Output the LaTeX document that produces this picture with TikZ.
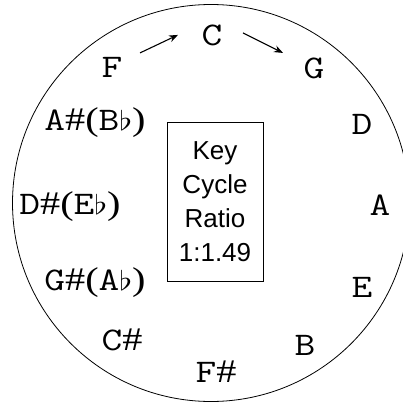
\documentclass[tikz,border=0pt]{standalone}
\usepackage{fontspec}
\setmainfont{Liberation Serif}
\newfontfamily\boxfont{Liberation Sans}
\newfontfamily\symfont{Liberation Serif}
\usetikzlibrary{arrows.meta,calc}
\newcommand\shp{{\symfont\#}}
\newcommand\flt{\scalebox{2.7}{\fontsize{10}{12}\selectfont$\flat$}}
\newcommand\enh[2]{#1\shp{\symfont(}#2\flt{\symfont)}}
\newcommand\widelab[1]{\scalebox{1.22}[1]{#1}}
\tikzset{
  lab/.style={font=\ttfamily\fontsize{33}{40}\selectfont, anchor=base, inner sep=0pt},
  arr/.style={-{Stealth[length=9pt,width=7pt]}, line width=1.1pt},
  keybox/.style={draw, line width=0.8pt, minimum width=96pt, minimum height=159pt,
    inner sep=0pt, align=center, font=\boxfont\fontsize{26}{34}\selectfont}
}
\begin{document}
\begin{tikzpicture}[x=1pt,y=-1pt]
\useasboundingbox (0,0) rectangle (403,403);
\fill[white] (0,0) rectangle (403,403);
\draw[line width=0.8pt] (211,203) circle[radius=198.5pt];
\node[keybox] (key) at (215,201.5) {Key\\Cycle\\Ratio\\1:1.49};
\node[lab] (C) at (212,46) {\widelab{C}};
\node[lab] (G) at (314,79) {\widelab{G}};
\node[lab] (D) at (362,135) {\widelab{D}};
\node[lab] (A) at (380,215) {\widelab{A}};
\node[lab] (E) at (362,297) {\widelab{E}};
\node[lab] (B) at (305,355) {\widelab{B}};
\node[lab] (Fs) at (216,382) {\widelab{F\shp}};
\node[lab] (Cs) at (122,350) {\widelab{C\shp}};
\node[lab] (Gs) at (95,290) {\widelab{\enh{G}{A}}};
\node[lab] (Ds) at (70,214) {\widelab{\enh{D}{E}}};
\node[lab] (As) at (95,131) {\widelab{\enh{A}{B}}};
\node[lab] (F) at (112,78) {\widelab{F}};
\draw[arr] ($(F.center)+(28,-15)$) -- ($(C.center)+(-34,-1)$);
\draw[arr] ($(C.center)+(31,-3)$) -- ($(G.center)+(-31,-16)$);
\end{tikzpicture}
\end{document}
